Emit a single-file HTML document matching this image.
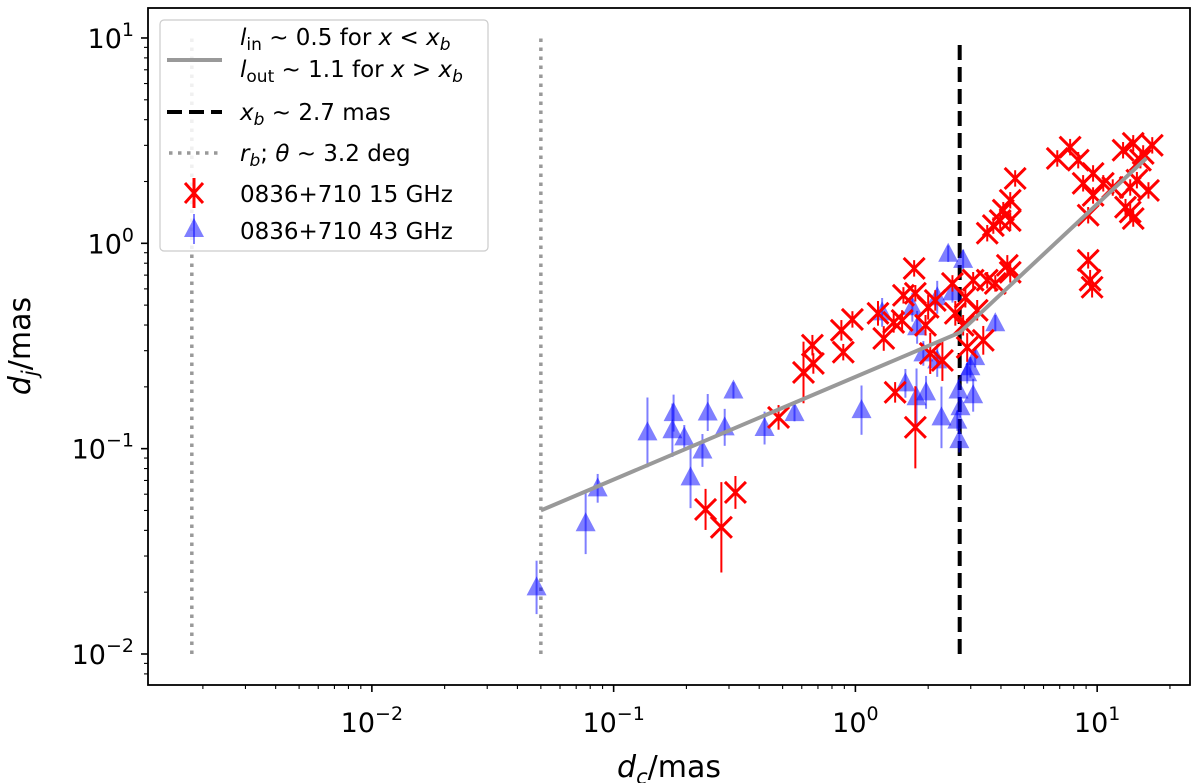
<!DOCTYPE html>
<html><head><meta charset="utf-8"><style>
body{margin:0;background:#fff;}
svg{display:block;font-family:"DejaVu Sans","Liberation Sans",sans-serif;}
</style></head><body>
<svg id="chart" width="1200" height="783" viewBox="0 0 1200 783">
<g id="plot"></g>
<g id="axes"></g>
<g id="legend"></g>
</svg>
<script>
const xTicks=[0.01,0.1,1,10];
const xTickLabels=["-2","-1","0","1"];
const yTicks=[0.01,0.1,1,10];
const yTickLabels=["-2","-1","0","1"];
const blueX=[0.048,0.0766,0.0859,0.138,0.177,0.175,0.196,0.233,0.208,0.245,0.288,0.313,0.421,0.560,1.06,1.61,1.79,1.96,2.27,2.42,2.79,2.18,1.72,1.29,1.80,1.91,2.18,2.67,2.72,2.64,2.69,2.99,3.13,3.07,3.79,2.52,2.90];
const blueY=[0.0211,0.0433,0.0641,0.120,0.149,0.123,0.1135,0.098,0.0725,0.150,0.127,0.192,0.126,0.149,0.154,0.208,0.178,0.188,0.142,0.89,0.83,0.546,0.488,0.461,0.39,0.291,0.269,0.192,0.159,0.137,0.110,0.249,0.279,0.182,0.408,0.577,0.233];
const blueErr=[0.13,0.15,0.07,0.17,0.09,0.13,0.06,0.08,0.15,0.09,0.09,0.04,0.08,0.04,0.12,0.07,0.14,0.08,0.15,0.04,0.05,0.08,0.07,0.07,0.08,0.06,0.08,0.05,0.05,0.05,0.06,0.05,0.05,0.08,0.04,0.05,0.05];
const redX=[0.240,0.279,0.319,0.481,0.610,0.664,0.670,0.891,0.875,0.972,1.24,1.31,1.44,1.56,1.58,1.75,1.77,1.46,1.77,2.00,1.95,2.14,2.04,2.29,2.52,2.59,2.79,2.85,2.90,3.07,3.19,3.38,3.51,3.79,4.25,4.37,3.51,3.72,3.97,4.37,4.09,4.37,4.58,6.84,7.73,8.35,8.75,9.18,9.62,10.6,9.62,11.6,9.18,9.35,9.53,13.1,13.7,14.1,13.7,14.6,15.1,15.5,12.8,14.1,16.9,16.3];
const redY=[0.0506,0.0414,0.0612,0.142,0.235,0.319,0.260,0.295,0.377,0.426,0.456,0.344,0.412,0.421,0.558,0.755,0.571,0.188,0.127,0.488,0.399,0.527,0.291,0.269,0.638,0.456,0.399,0.546,0.311,0.661,0.472,0.337,0.661,0.638,0.781,0.722,1.12,1.22,1.29,1.29,1.45,1.62,2.07,2.59,2.94,2.54,1.96,1.37,2.19,1.96,1.71,1.87,0.826,0.661,0.611,1.50,1.42,1.32,1.87,2.03,2.54,2.74,2.84,3.07,3.0,1.81];
const redErr=[0.1,0.22,0.08,0.06,0.15,0.05,0.05,0.04,0.05,0.04,0.06,0.06,0.05,0.05,0.04,0.04,0.04,0.05,0.2,0.06,0.05,0.05,0.1,0.1,0.04,0.06,0.05,0.05,0.07,0.04,0.05,0.07,0.04,0.04,0.05,0.05,0.04,0.04,0.04,0.04,0.04,0.04,0.04,0.04,0.04,0.04,0.04,0.04,0.04,0.04,0.04,0.04,0.04,0.05,0.05,0.04,0.04,0.04,0.04,0.04,0.04,0.04,0.04,0.04,0.04,0.04];
const fitXb=2.7, fitStart=0.05, fitEnd=16, fitY0=0.05, lIn=0.5, lOut=1.1;
const rbLines=[0.0018,0.05];

const L=148,R=1190,T=8,B=685;
const xmin=-2.926,xmax=1.384,ymin=-2.151,ymax=1.146;
const sx=v=>L+(Math.log10(v)-xmin)/(xmax-xmin)*(R-L);
const sy=v=>B-(Math.log10(v)-ymin)/(ymax-ymin)*(B-T);
const NS="http://www.w3.org/2000/svg";
function mk(tag,attrs,parent){const e=document.createElementNS(NS,tag);for(const k in attrs)e.setAttribute(k,attrs[k]);parent.appendChild(e);return e;}
const plot=document.getElementById('plot'),axes=document.getElementById('axes'),leg=document.getElementById('legend');

rbLines.forEach(v=>{const l=mk('line',{x1:sx(v),x2:sx(v),y1:sy(0.01),y2:sy(10),stroke:'#999','stroke-width':3.5,'stroke-dasharray':'3.5 5.5'},plot);

});
const xb=mk('line',{x1:sx(fitXb),x2:sx(fitXb),y1:sy(0.01),y2:sy(10),stroke:'#000','stroke-width':4,'stroke-dasharray':'15 7'},plot);



blueX.forEach((x,i)=>{const y=blueY[i],e=blueErr[i];const g=mk('g',{},plot);


const cx=sx(x),cy=sy(y);
mk('line',{x1:cx,x2:cx,y1:sy(y*Math.pow(10,e)),y2:sy(y/Math.pow(10,e)),stroke:'#0000ff','stroke-opacity':0.5,'stroke-width':2},g);
mk('polygon',{points:`${cx},${cy-11} ${cx-10},${cy+8} ${cx+10},${cy+8}`,fill:'#0000ff','fill-opacity':0.5},g);});

redX.forEach((x,i)=>{const y=redY[i],e=redErr[i];const g=mk('g',{stroke:'#ff0000','stroke-width':3},plot);


const cx=sx(x),cy=sy(y);
mk('line',{x1:cx,x2:cx,y1:sy(y*Math.pow(10,e)),y2:sy(y/Math.pow(10,e)),'stroke-width':2},g);
mk('path',{d:`M${cx-10.5},${cy-10.5}L${cx+10.5},${cy+10.5}M${cx-10.5},${cy+10.5}L${cx+10.5},${cy-10.5}`,fill:'none'},g);});

const f2=fitY0*Math.pow(fitXb/fitStart,lIn), f3=f2*Math.pow(fitEnd/fitXb,lOut);
const fit=mk('polyline',{points:`${sx(fitStart)},${sy(fitY0)} ${sx(fitXb)},${sy(f2)} ${sx(fitEnd)},${sy(f3)}`,fill:'none',stroke:'#999','stroke-width':4},plot);



mk('rect',{x:L,y:T,width:R-L,height:B-T,fill:'none',stroke:'#000','stroke-width':1.8},axes);
for(let d=-3;d<=1;d++){for(let m=1;m<10;m++){const v=m*Math.pow(10,d);const px=sx(v);if(px<L||px>R)continue;
mk('line',{x1:px,x2:px,y1:B,y2:B+(m==1?7:4),stroke:'#000','stroke-width':m==1?1.6:1.1},axes);}}
xTicks.forEach((v,i)=>{const t=mk('text',{x:sx(v),y:B+47,'font-size':27,'text-anchor':'middle'},axes);


t.innerHTML=`10<tspan dy="-12" font-size="19">${xTickLabels[i].replace('-','\u2212')}</tspan>`;});
for(let d=-3;d<=1;d++){for(let m=1;m<10;m++){const v=m*Math.pow(10,d);const py=sy(v);if(py<T||py>B)continue;
mk('line',{x1:L,x2:L-(m==1?7:4),y1:py,y2:py,stroke:'#000','stroke-width':m==1?1.6:1.1},axes);}}
yTicks.forEach((v,i)=>{const t=mk('text',{x:L-14,y:sy(v)+10,'font-size':27,'text-anchor':'end'},axes);


t.innerHTML=`10<tspan dy="-12" font-size="19">${yTickLabels[i].replace('-','\u2212')}</tspan>`;});
const xl=mk('text',{x:669,y:777,'font-size':30,'text-anchor':'middle'},axes);


xl.innerHTML='<tspan font-style="italic">d</tspan><tspan font-style="italic" font-size="21" dy="7">c</tspan><tspan dy="-7">/mas</tspan>';
const yl=mk('text',{transform:'translate(30,346) rotate(-90)','font-size':30,'text-anchor':'middle'},axes);


yl.innerHTML='<tspan font-style="italic">d</tspan><tspan font-style="italic" font-size="21" dy="7">j</tspan><tspan dy="-7">/mas</tspan>';

const lb=mk('rect',{x:160,y:20,width:328,height:231,rx:4,fill:'#fff','fill-opacity':0.85,stroke:'#ccc','stroke-width':1.2},leg);


mk('line',{x1:167,x2:222,y1:60,y2:60,stroke:'#999','stroke-width':4},leg);
mk('line',{x1:167,x2:222,y1:112,y2:112,stroke:'#000','stroke-width':4,'stroke-dasharray':'15 7'},leg);
mk('line',{x1:169,x2:222,y1:153,y2:153,stroke:'#999','stroke-width':3.5,'stroke-dasharray':'3.5 5.5'},leg);
mk('path',{d:'M185,183L203,203M185,203L203,183M194,178V208',stroke:'#f00','stroke-width':3,fill:'none'},leg);
mk('polygon',{points:'194,218 184,237 204,237',fill:'#00f','fill-opacity':0.5},leg);
mk('line',{x1:194,x2:194,y1:214,y2:244,stroke:'#00f','stroke-opacity':0.5,'stroke-width':2},leg);
const items=[[240,45,'<tspan font-style="italic">l</tspan><tspan font-size="17" dy="5">in</tspan><tspan dy="-5"> ~ 0.5 for </tspan><tspan font-style="italic">x</tspan> &lt; <tspan font-style="italic">x</tspan><tspan font-style="italic" font-size="17" dy="5">b</tspan>'],
[240,77,'<tspan font-style="italic">l</tspan><tspan font-size="17" dy="5">out</tspan><tspan dy="-5"> ~ 1.1 for </tspan><tspan font-style="italic">x</tspan> &gt; <tspan font-style="italic">x</tspan><tspan font-style="italic" font-size="17" dy="5">b</tspan>'],
[240,120,'<tspan font-style="italic">x</tspan><tspan font-style="italic" font-size="17" dy="5">b</tspan><tspan dy="-5"> ~ 2.7 mas</tspan>'],
[240,161,'<tspan font-style="italic">r</tspan><tspan font-style="italic" font-size="17" dy="5">b</tspan><tspan dy="-5">;  </tspan><tspan font-style="italic">θ</tspan> ~ 3.2 deg'],
[240,202,'0836+710 15 GHz'],[240,239,'0836+710 43 GHz']];
items.forEach(it=>{const t=mk('text',{x:it[0],y:it[1],'font-size':23},leg);


t.innerHTML=it[2];});
</script>
</body></html>
